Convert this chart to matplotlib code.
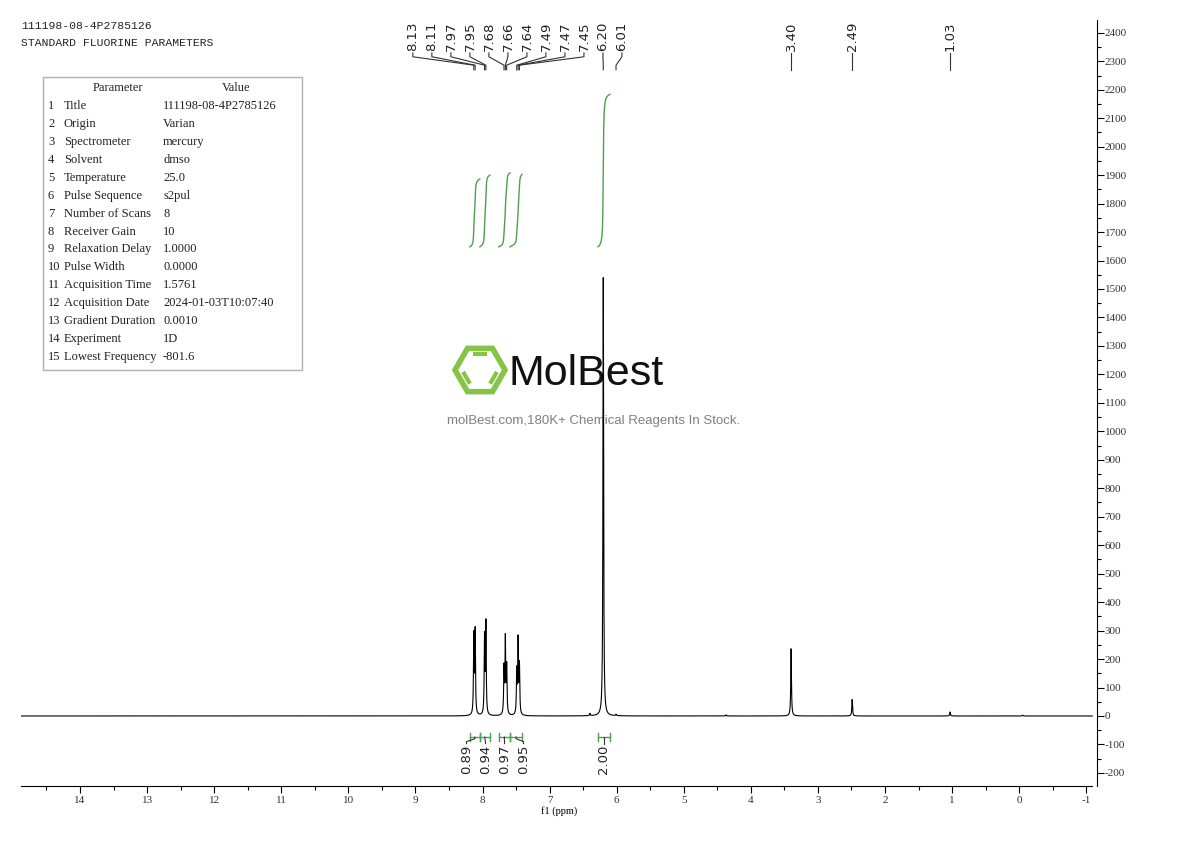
import numpy as np
import matplotlib.pyplot as plt
import matplotlib.transforms as mtransforms
from matplotlib.patches import Rectangle, Polygon
from matplotlib.ticker import MultipleLocator

plt.rcParams['axes.unicode_minus'] = False

# peaks of the 1H spectrum (ppm, intensity)
peak_ppm = [8.13, 8.11, 7.97, 7.95, 7.68, 7.66, 7.64, 7.49, 7.47, 7.45,
            6.40, 6.20, 6.01, 4.37, 3.40, 2.49, 1.03, -0.05]
peak_height = [275, 290, 270, 318, 160, 262, 165, 150, 258, 170,
               8, 1540, 5, 4, 236, 58, 14, 3]

label_ppm = [8.13, 8.11, 7.97, 7.95, 7.68, 7.66, 7.64, 7.49, 7.47, 7.45,
             6.20, 6.01, 3.40, 2.49, 1.03]

int_start = [8.19, 8.04, 7.76, 7.59, 6.28]
int_end = [8.04, 7.89, 7.59, 7.41, 6.10]
int_values = [0.89, 0.94, 0.97, 0.95, 2.00]

param_names = ["Title", "Origin", "Spectrometer", "Solvent", "Temperature",
               "Pulse Sequence", "Number of Scans", "Receiver Gain",
               "Relaxation Delay", "Pulse Width", "Acquisition Time",
               "Acquisition Date", "Gradient Duration", "Experiment",
               "Lowest Frequency"]
param_values = ["111198-08-4P2785126", "Varian", "mercury", "dmso", "25.0",
                "s2pul", "8", "10", "1.0000", "0.0000", "1.5761",
                "2024-01-03T10:07:40", "0.0010", "1D", "-801.6"]

green = '#4f9f4f'
mono = 'Liberation Mono'
serif = 'Liberation Serif'

fig = plt.figure(figsize=(11.9, 8.41), dpi=100)
ax = fig.add_axes([21 / 1190, 55 / 841, 1076 / 1190, 766 / 841])
# pixel coordinates (y down) for the decorations
px = mtransforms.Affine2D().scale(1 / 1190, -1 / 841).translate(0, 1) + fig.transFigure

# spectrum
xmin, xmax = 14.88, -1.16
x = np.linspace(xmin, -1.09, 40000)
w = 0.006
y = np.zeros_like(x)
for p, h in zip(peak_ppm, peak_height):
    y += h / (1 + ((x - p) / w) ** 2)
ax.plot(x, y, color='black', lw=0.8, zorder=3)

# integral curves
for s, e, v in zip(int_start, int_end, int_values):
    m = (x <= s) & (x >= e)
    c = np.cumsum(y[m])
    c = c / c[-1]
    ax.plot(x[m], 1648 + v * 268 * c, color=green, lw=1, zorder=3)

# peak labels at top
def spread(pos, gap):
    lab = list(pos)
    for _ in range(500):
        for i in range(len(lab) - 1):
            d = lab[i] - lab[i + 1]
            if d < gap:
                sh = (gap - d) / 2
                lab[i] += sh
                lab[i + 1] -= sh
    return lab

gap = 19 / 67.05
tr_top = mtransforms.blended_transform_factory(ax.transData, ax.transAxes)
lab_x = spread(label_ppm, gap)
for p, lx in zip(label_ppm, lab_x):
    ax.text(lx, 0.960, f"{p:.2f}", rotation=90, ha='center', va='bottom',
            fontsize=9.5, color='#222222', transform=tr_top)
    ax.plot([lx, lx, p, p], [0.957, 0.952, 0.941, 0.935], color='#333333',
            lw=0.8, transform=tr_top, clip_on=False)

# integration brackets and labels
centers = [(s + e) / 2 for s, e in zip(int_start, int_end)]
int_lab = spread(centers, gap)
for s, e, v, c, lx in zip(int_start, int_end, int_values, centers, int_lab):
    ax.plot([s, e], [-74, -74], color=green, lw=1)
    ax.plot([s, s], [-88, -60], color=green, lw=1)
    ax.plot([e, e], [-88, -60], color=green, lw=1)
    ax.plot([c, c, lx, lx], [-74, -80, -90, -97], color='#333333', lw=0.8)
    ax.text(lx, -100, f"{v:.2f}", rotation=90, ha='center', va='top',
            fontsize=9.5, color='#222222')

# axes
ax.set_xlim(xmin, xmax)
ax.set_ylim(-246, 2445)
ax.spines['left'].set_visible(False)
ax.spines['top'].set_visible(False)
ax.spines['bottom'].set_bounds(xmin, -1.09)
ax.yaxis.tick_right()
ax.set_yticks(range(-200, 2401, 100))
ax.yaxis.set_minor_locator(MultipleLocator(50))
ax.set_xticks(range(14, -2, -1))
ax.xaxis.set_minor_locator(MultipleLocator(0.5))
ax.tick_params(axis='x', which='major', length=5, width=0.8, labelsize=8, pad=2)
ax.tick_params(axis='y', which='major', length=5, width=0.8, labelsize=8, pad=0.5)
ax.tick_params(axis='both', which='minor', length=3, width=0.8)
for t in ax.get_xticklabels() + ax.get_yticklabels():
    t.set_fontfamily(serif)
    t.set_color('#333333')
ax.set_xlabel('f1 (ppm)', fontsize=7.5, fontfamily=serif, labelpad=1)

# header text and parameter table
ax.text(21, 26, "111198-08-4P2785126", transform=px, fontfamily=mono,
        fontsize=8.2, va='center', color='#222222')
ax.text(21, 43, "STANDARD FLUORINE PARAMETERS", transform=px, fontfamily=mono,
        fontsize=8.2, va='center', color='#222222')
ax.add_patch(Rectangle((43, 77), 259, 293, transform=px, fill=False,
                       edgecolor='#b0b0b0', lw=1, clip_on=False))
tfs = 9
ax.text(118, 88, "Parameter", transform=px, fontfamily=serif, fontsize=tfs,
        ha='center', va='center', color='#222222')
ax.text(236, 88, "Value", transform=px, fontfamily=serif, fontsize=tfs,
        ha='center', va='center', color='#222222')
for i, (n, v) in enumerate(zip(param_names, param_values)):
    yy = 106 + 17.93 * i
    ax.text(48, yy, str(i + 1), transform=px, fontfamily=serif, fontsize=tfs,
            va='center', color='#222222')
    ax.text(64, yy, n, transform=px, fontfamily=serif, fontsize=tfs,
            va='center', color='#222222')
    ax.text(163, yy, v, transform=px, fontfamily=serif, fontsize=tfs,
            va='center', color='#222222')

# watermark
logo_green = '#85c446'
cx, cy, r = 480, 370, 25
ang = np.radians(np.arange(0, 360, 60))
hexagon = np.column_stack([cx + r * np.cos(ang), cy + r * np.sin(ang)])
ax.add_patch(Polygon(hexagon, closed=True, fill=False, edgecolor=logo_green,
                     lw=4, transform=px, clip_on=False, zorder=1))
ri = 18
inner = [cx + ri * np.cos(ang), cy + ri * np.sin(ang)]
for a, b in [(4, 5), (0, 1), (2, 3)]:
    xa, ya = inner[0][a], inner[1][a]
    xb, yb = inner[0][b], inner[1][b]
    ax.plot([xa + 0.12 * (xb - xa), xb - 0.12 * (xb - xa)],
            [ya + 0.12 * (yb - ya), yb - 0.12 * (yb - ya)], color=logo_green,
            lw=3, transform=px, clip_on=False, zorder=1, solid_capstyle='butt')
ax.text(509, 374, "MolBest", transform=px, fontsize=31, va='center', ha='left',
        fontfamily='Liberation Sans', color='#111111', zorder=1)
ax.text(594, 421, "molBest.com,180K+ Chemical Reagents In Stock.", transform=px,
        fontsize=9.5, va='center', ha='center', fontfamily='Liberation Sans',
        color='#808080', zorder=1)

plt.savefig("out.png", dpi=100)
